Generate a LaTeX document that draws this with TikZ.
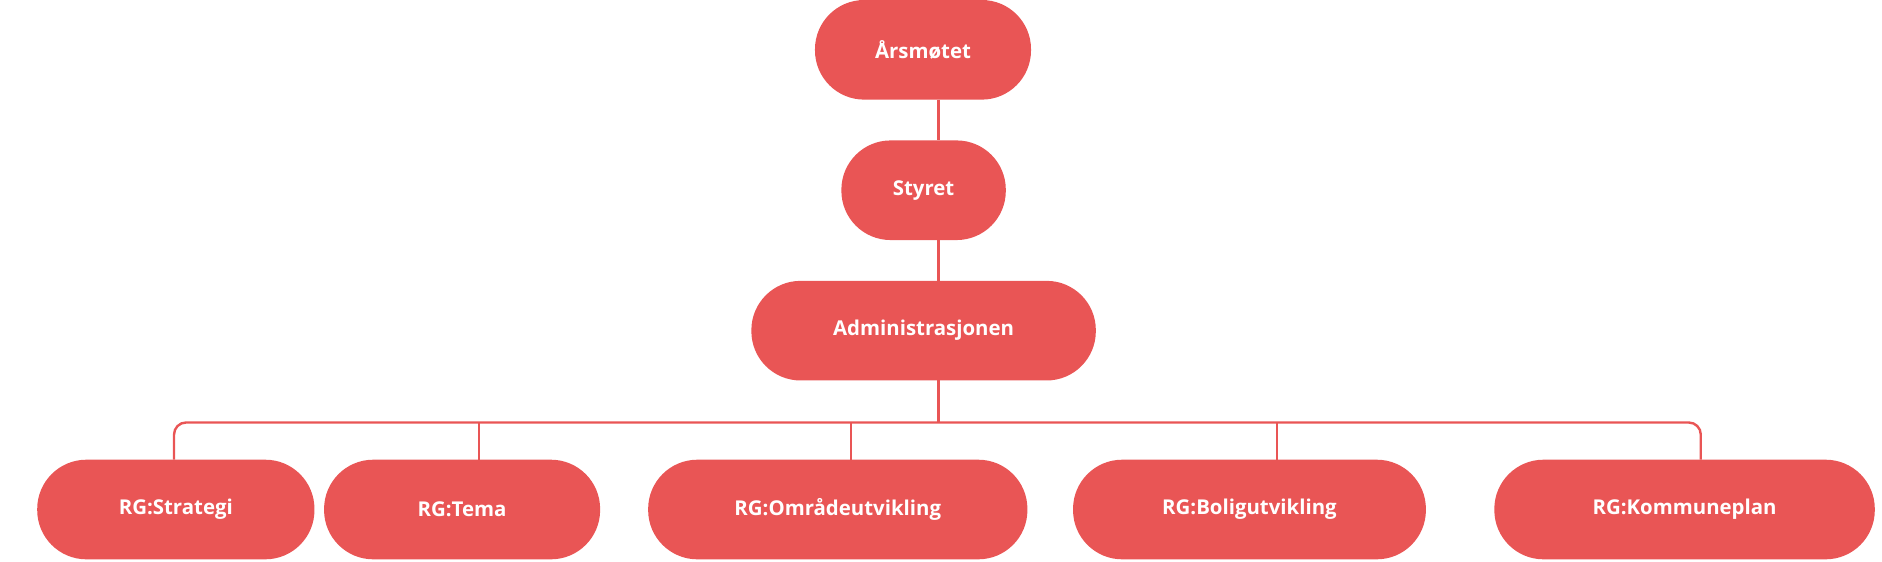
\documentclass[tikz,border=0pt]{standalone}
\usepackage{fontspec}
\setmainfont{Open Sans}
\definecolor{rd}{HTML}{E95555}
\begin{document}
\begin{tikzpicture}[x=1pt,y=-1pt,
  box/.style={fill=rd,rounded corners=41pt,minimum height=83pt,text=white,font=\fontsize{17}{20}\selectfont\bfseries,inner sep=0pt},
  ln/.style={draw=rd,line width=2pt}]
\useasboundingbox (0,0) rectangle (1568,468);
\node[box,minimum width=180pt] (a) at (769,41.5) {Årsmøtet};
\node[box,minimum width=137pt] (s) at (769.5,158.5) {Styret};
\node[box,minimum width=287pt] (ad) at (769.5,275.5) {Administrasjonen};
\node[box,minimum width=231pt] (r1) at (146.5,424.5) {RG:Strategi};
\node[box,minimum width=230pt] (r2) at (385,424.5) {RG:Tema};
\node[box,minimum width=316pt] (r3) at (698,424.5) {RG:Områdeutvikling};
\node[box,minimum width=294pt] (r4) at (1041,424.5) {RG:Boligutvikling};
\node[box,minimum width=317pt] (r5) at (1403.5,424.5) {RG:Kommuneplan};
\coordinate (j) at (782,352);
\draw[ln] (782,83) -- (782,117);
\draw[ln] (782,200) -- (782,234);
\draw[ln] (782,317) -- (j);
\draw[ln,rounded corners=10pt] (145,383) -- (145,352) -- (1417,352) -- (1417,383);
\foreach \x in {399,709,1064} \draw[ln] (\x,352) -- (\x,383);
\end{tikzpicture}
\end{document}
